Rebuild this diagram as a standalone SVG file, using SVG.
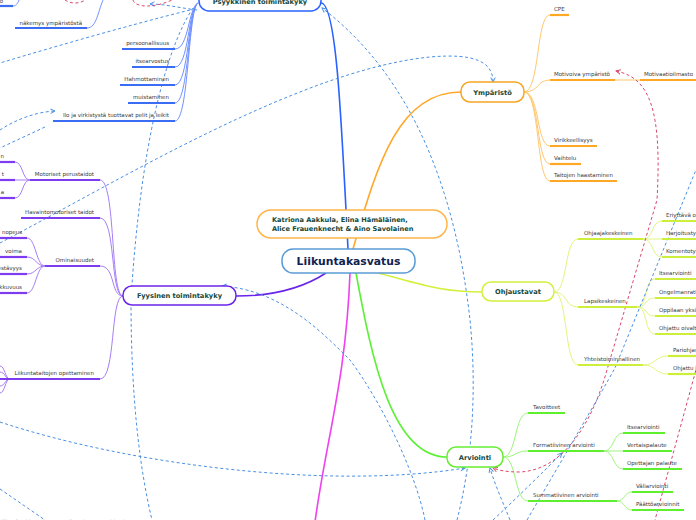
<svg xmlns="http://www.w3.org/2000/svg" width="696" height="520" viewBox="0 0 696 520">
<style>
.lbl{font-family:"DejaVu Sans",Verdana,sans-serif;font-size:5.5px;fill:#3a3a3a}
.end{text-anchor:end}
.nt{font-family:"DejaVu Sans",Verdana,sans-serif;font-weight:bold;font-size:6.7px;fill:#17483b;text-anchor:middle}
.box{fill:#fff;stroke-width:1.5}
.ul{fill:none;stroke-width:2.2}
.cv{fill:none;stroke-width:1}
.br{fill:none;stroke-width:1.6}
.dash{fill:none;stroke:#4a90e2;stroke-width:1;stroke-dasharray:3 2.5}
.rdash{fill:none;stroke:#d9486a;stroke-width:1;stroke-dasharray:3 2.5}
.b .ul{stroke:#3a6cf4}.b .cv{stroke:#6f90ff}
.o .ul{stroke:#ffa826}.o .cv{stroke:#ffc870}
.y .ul{stroke:#cdee3a}.y .cv{stroke:#e2f57e}
.g .ul{stroke:#5ef02e}.g .cv{stroke:#9ef57c}
.p .ul{stroke:#7d3cf0}.p .cv{stroke:#a67ef5}
</style>
<defs>
<marker id="ab" viewBox="0 0 8 8" refX="7" refY="4" markerWidth="6" markerHeight="6" markerUnits="userSpaceOnUse" orient="auto-start-reverse"><path d="M1,1 L7,4 L1,7" fill="none" stroke="#4a90e2" stroke-width="1.3"/></marker>
<marker id="ar" viewBox="0 0 8 8" refX="7" refY="4" markerWidth="6" markerHeight="6" markerUnits="userSpaceOnUse" orient="auto-start-reverse"><path d="M1,1 L7,4 L1,7" fill="none" stroke="#d9486a" stroke-width="1.3"/></marker>
</defs>

<g id="connectors">
  <path class="br" d="M321 3 C336 3 341 110 348 249" stroke="#2962ff"/>
  <path class="br" d="M353 249 C378 160 400 92 461 92" stroke="#ffa726"/>
  <path class="br" d="M378 273 C420 284 440 292 482 292" stroke="#d4f03c"/>
  <path class="br" d="M356 273 C372 360 392 457 447 457" stroke="#5ef038"/>
  <path class="br" d="M350 273 C346 380 326 440 315 522" stroke="#f040f0"/>
  <path class="br" d="M326 273 C300 290 270 296 236 296" stroke="#6a24ea"/>

  <g class="b">
    <path class="cv" d="M175 49 C189 49 188 8 198 3"/>
    <path class="cv" d="M175 67 C189 67 188 8 198 3"/>
    <path class="cv" d="M175 85 C189 85 188 8 198 3"/>
    <path class="cv" d="M175 103 C189 103 188 8 198 3"/>
    <path class="cv" d="M175 121 C189 121 188 8 198 3"/>
    <path class="cv" d="M87 28 C97 28 98 10 104 -2"/>
    <path class="cv" d="M13 6 C17 6 18 2 20 -2"/>
  </g>
  <g class="o">
    <path class="cv" d="M524 92 C540 92 536 15 550 15"/>
    <path class="cv" d="M524 92 C540 92 536 80 550 80"/>
    <path class="cv" d="M524 92 C540 92 536 146 550 146"/>
    <path class="cv" d="M524 92 C540 92 536 164 550 164"/>
    <path class="cv" d="M524 92 C540 92 536 181 550 181"/>
    <path class="cv" d="M615 80 L640 80"/>
  </g>
  <g class="y">
    <path class="cv" d="M554 292 C568 292 564 239 578 239"/>
    <path class="cv" d="M554 292 C568 292 564 307 578 307"/>
    <path class="cv" d="M554 292 C568 292 564 365 578 365"/>
    <path class="cv" d="M643 239 C654 239 651 221 662 221"/>
    <path class="cv" d="M643 239 L662 239"/>
    <path class="cv" d="M643 239 C654 239 651 257 662 257"/>
    <path class="cv" d="M637 307 C648 307 644 279 655 279"/>
    <path class="cv" d="M637 307 C648 307 644 298 655 298"/>
    <path class="cv" d="M637 307 C648 307 644 316 655 316"/>
    <path class="cv" d="M637 307 C648 307 644 334 655 334"/>
    <path class="cv" d="M643 365 C656 365 655 356 668 356"/>
    <path class="cv" d="M643 365 C656 365 655 374 668 374"/>
  </g>
  <g class="g">
    <path class="cv" d="M503 457 C517 457 514 413 528 413"/>
    <path class="cv" d="M503 457 C517 457 514 451 528 451"/>
    <path class="cv" d="M503 457 C517 457 514 501 528 501"/>
    <path class="cv" d="M604 451 C614 451 613 433 623 433"/>
    <path class="cv" d="M604 451 L623 451"/>
    <path class="cv" d="M604 451 C614 451 613 469 623 469"/>
    <path class="cv" d="M617 501 C625 501 624 492 632 492"/>
    <path class="cv" d="M617 501 C625 501 624 510 632 510"/>
  </g>
  <g class="p">
    <path class="cv" d="M100 180 C116 180 110 296 123 296"/>
    <path class="cv" d="M100 218 C116 218 110 296 123 296"/>
    <path class="cv" d="M100 266 C116 266 110 296 123 296"/>
    <path class="cv" d="M100 379 C116 379 110 296 123 296"/>
    <path class="cv" d="M30 180 C22 180 23 162 15 162"/>
    <path class="cv" d="M30 180 L15 180"/>
    <path class="cv" d="M30 180 C22 180 23 198 15 198"/>
    <path class="cv" d="M45 266 C36 266 36 238 27 238"/>
    <path class="cv" d="M45 266 C36 266 36 257 27 257"/>
    <path class="cv" d="M45 266 C36 266 36 274 27 274"/>
    <path class="cv" d="M45 266 C36 266 36 293 27 293"/>
    <path class="cv" d="M10 379 C5 379 5 366 0 366"/>
    <path class="cv" d="M10 379 C5 379 5 372 0 372"/>
    <path class="cv" d="M10 379 C5 379 5 386 0 386"/>
    <path class="cv" d="M10 379 C5 379 5 393 0 393"/>
  </g>

  <path class="dash" d="M190 10 C130 25 60 45 0 63"/>
  <path class="dash" d="M193 8 C165 50 140 150 131 300 C131 400 140 470 152 520"/>
  <path class="dash" d="M0 130 C15 120 35 112 55 111" marker-end="url(#ab)"/>
  <path class="dash" d="M45 127 L0 148"/>
  <path class="dash" d="M0 243 C120 180 300 70 430 57 C475 53 493 62 493 82" marker-end="url(#ab)"/>
  <path class="dash" d="M457 520 C470 470 478 400 470 320 C460 230 430 90 322 8" marker-end="url(#ab)"/>
  <path class="dash" d="M425 520 C415 470 380 400 350 360 C320 330 280 290 222 286" marker-end="url(#ab)"/>
  <path class="dash" d="M0 422 C130 465 330 490 465 468" marker-end="url(#ab)"/>
  <path class="dash" d="M0 489 L45 520"/>
  <path class="dash" d="M510 520 C502 500 495 485 490 468" marker-end="url(#ab)"/>
  <path class="dash" d="M493 520 C520 495 545 470 562 453" marker-end="url(#ab)"/>
  <path class="dash" d="M527 520 C565 455 600 395 615 368 L700 160"/>
  <path class="dash" d="M197 10 C180 8 165 4 150 4" marker-end="url(#ab)"/>
  <path class="rdash" d="M616 71 C650 78 662 110 657 200 L607 370 C590 430 560 470 520 472 C505 472 498 470 493 468" marker-start="url(#ar)" marker-end="url(#ar)"/>
  <path class="rdash" d="M700 355 L655 520"/>
  <path class="rdash" d="M133 0 C135 8 155 8 172 0"/>
  <path class="rdash" d="M65 0 C70 4 80 4 85 0"/>
</g>

<g id="center">
  <rect class="box" x="282" y="249" width="133" height="24" rx="11" stroke="#5b9bd5"/>
  <text x="348.5" y="265" font-family="DejaVu Sans,Verdana,sans-serif" font-weight="bold" font-size="10.8" fill="#0f2350" text-anchor="middle">Liikuntakasvatus</text>
</g>
<g id="authors">
  <rect class="box" x="257" y="210" width="190" height="28" rx="14" stroke="#ffb547"/>
  <text x="272" y="222" font-family="DejaVu Sans,Verdana,sans-serif" font-weight="bold" font-size="6.6" fill="#17483b">Katriona Aakkula, Elina Hämäläinen,</text>
  <text x="272" y="231" font-family="DejaVu Sans,Verdana,sans-serif" font-weight="bold" font-size="6.6" fill="#17483b">Alice Frauenknecht &amp; Aino Savolainen</text>
</g>
<g id="psyykkinen">
  <rect class="box" x="199" y="-12" width="122" height="23" rx="10" stroke="#2962ff"/>
  <text class="nt" x="260" y="4">Psyykkinen toimintakyky</text>
</g>
<g id="ymparisto">
  <rect class="box" x="461" y="82" width="63" height="20" rx="9" stroke="#f5a623"/>
  <text class="nt" x="492.5" y="94.5">Ympäristö</text>
</g>
<g id="ohjaustavat">
  <rect class="box" x="482" y="282" width="72" height="19" rx="9" stroke="#d4f03c"/>
  <text class="nt" x="518" y="294">Ohjaustavat</text>
</g>
<g id="arviointi">
  <rect class="box" x="447" y="447" width="56" height="20" rx="9" stroke="#66ee33"/>
  <text class="nt" x="475" y="459.5">Arviointi</text>
</g>
<g id="fyysinen">
  <rect class="box" x="123" y="286" width="113" height="19" rx="9" stroke="#6a24ea"/>
  <text class="nt" x="179.5" y="298">Fyysinen toimintakyky</text>
</g>

<g class="b">
  <g id="p-o"><path class="ul" d="M0 6 H13"/><text class="lbl end" x="3" y="3">o</text></g>
  <g id="p-nakemys"><path class="ul" d="M15 28 H87"/><text class="lbl end" x="82" y="25">näkemys ympäristöstä</text></g>
  <g id="p-persoonallisuus"><path class="ul" d="M122 49 H175"/><text class="lbl end" x="169" y="45">persoonallisuus</text></g>
  <g id="p-itsearvostus"><path class="ul" d="M132 67 H175"/><text class="lbl end" x="169" y="63">itsearvostus</text></g>
  <g id="p-hahmottaminen"><path class="ul" d="M120 85 H175"/><text class="lbl end" x="169" y="81">Hahmottaminen</text></g>
  <g id="p-muistaminen"><path class="ul" d="M128 103 H175"/><text class="lbl end" x="169" y="99">muistaminen</text></g>
  <g id="p-ilo"><path class="ul" d="M53 121 H175"/><text class="lbl end" x="169" y="117">Ilo ja virkistystä tuottavat pelit ja leikit</text></g>
</g>

<g class="o">
  <g id="y-cpe"><path class="ul" d="M550 15 H569"/><text class="lbl" x="554" y="11">CPE</text></g>
  <g id="y-motivoiva"><path class="ul" d="M550 80 H615"/><text class="lbl" x="554" y="76">Motivoiva ympäristö</text></g>
  <g id="y-motivaatioilmasto"><path class="ul" d="M640 80 H696"/><text class="lbl" x="644" y="76">Motivaatioilmasto</text></g>
  <g id="y-virikkeellisyys"><path class="ul" d="M550 146 H597"/><text class="lbl" x="554" y="142">Virikkeellisyys</text></g>
  <g id="y-vaihtelu"><path class="ul" d="M550 164 H581"/><text class="lbl" x="554" y="160">Vaihtelu</text></g>
  <g id="y-taitojen"><path class="ul" d="M550 181 H617"/><text class="lbl" x="554" y="177">Taitojen haastaminen</text></g>
</g>

<g class="y">
  <g id="o-ohjaajakeskeinen"><path class="ul" d="M578 239 H643"/><text class="lbl" x="584" y="235">Ohjaajakeskeinen</text></g>
  <g id="o-eriyttava"><path class="ul" d="M662 221 H696"/><text class="lbl" x="666" y="217">Eriyttävä opetus</text></g>
  <g id="o-harjoitustyyli"><path class="ul" d="M662 239 H696"/><text class="lbl" x="666" y="235">Harjoitustyyli</text></g>
  <g id="o-komentotyyli"><path class="ul" d="M662 257 H696"/><text class="lbl" x="666" y="253">Komentotyyli</text></g>
  <g id="o-lapsikeskeinen"><path class="ul" d="M578 307 H637"/><text class="lbl" x="584" y="303">Lapsikeskeinen</text></g>
  <g id="o-itsearviointi"><path class="ul" d="M655 279 H696"/><text class="lbl" x="659" y="275">Itsearviointi</text></g>
  <g id="o-ongelmanratkaisu"><path class="ul" d="M655 298 H696"/><text class="lbl" x="659" y="294">Ongelmanratkaisu</text></g>
  <g id="o-oppilaan"><path class="ul" d="M655 316 H696"/><text class="lbl" x="659" y="312">Oppilaan yksilöllinen</text></g>
  <g id="o-ohjattu-oivaltaminen"><path class="ul" d="M655 334 H696"/><text class="lbl" x="659" y="330">Ohjattu oivaltaminen</text></g>
  <g id="o-yhteistoiminnallinen"><path class="ul" d="M578 365 H643"/><text class="lbl" x="584" y="361">Yhteistoiminnallinen</text></g>
  <g id="o-pariohjaus"><path class="ul" d="M668 356 H696"/><text class="lbl" x="673" y="352">Pariohjaus</text></g>
  <g id="o-ohjattu"><path class="ul" d="M668 374 H696"/><text class="lbl" x="673" y="370">Ohjattu j</text></g>
</g>

<g class="g">
  <g id="a-tavoitteet"><path class="ul" d="M528 413 H565"/><text class="lbl" x="533" y="409">Tavoitteet</text></g>
  <g id="a-formatiivinen"><path class="ul" d="M528 451 H604"/><text class="lbl" x="533" y="447">Formatiivinen arviointi</text></g>
  <g id="a-itsearviointi"><path class="ul" d="M623 433 H665"/><text class="lbl" x="627" y="429">Itsearviointi</text></g>
  <g id="a-vertaispalaute"><path class="ul" d="M623 451 H672"/><text class="lbl" x="627" y="447">Vertaispalaute</text></g>
  <g id="a-opettajan"><path class="ul" d="M623 469 H682"/><text class="lbl" x="627" y="465">Opettajan palaute</text></g>
  <g id="a-summatiivinen"><path class="ul" d="M528 501 H617"/><text class="lbl" x="533" y="497">Summatiivinen arviointi</text></g>
  <g id="a-valiarviointi"><path class="ul" d="M632 492 H673"/><text class="lbl" x="636" y="488">Väliarviointi</text></g>
  <g id="a-paattoarvioinnit"><path class="ul" d="M632 510 H684"/><text class="lbl" x="636" y="506">Päättöarvioinnit</text></g>
</g>

<g class="p">
  <g id="f-motoriset"><path class="ul" d="M30 180 H100"/><text class="lbl end" x="94" y="176">Motoriset perustaidot</text></g>
  <g id="f-m1"><path class="ul" d="M0 162 H15"/><text class="lbl end" x="4" y="158">n</text></g>
  <g id="f-m2"><path class="ul" d="M0 180 H15"/><text class="lbl end" x="4" y="176">t</text></g>
  <g id="f-m3"><path class="ul" d="M0 198 H15"/><text class="lbl end" x="4" y="194">a</text></g>
  <g id="f-havainto"><path class="ul" d="M21 218 H100"/><text class="lbl end" x="94" y="214">Havaintomotoriset taidot</text></g>
  <g id="f-ominaisuudet"><path class="ul" d="M45 266 H100"/><text class="lbl end" x="94" y="262">Ominaisuudet</text></g>
  <g id="f-nopeus"><path class="ul" d="M0 238 H27"/><text class="lbl end" x="22" y="234">nopeus</text></g>
  <g id="f-voima"><path class="ul" d="M0 257 H27"/><text class="lbl end" x="22" y="253">voima</text></g>
  <g id="f-kestavyys"><path class="ul" d="M0 274 H27"/><text class="lbl end" x="22" y="270">kestävyys</text></g>
  <g id="f-liikkuvuus"><path class="ul" d="M0 293 H27"/><text class="lbl end" x="22" y="289">liikkuvuus</text></g>
  <g id="f-liikuntataitojen"><path class="ul" d="M0 379 H100"/><text class="lbl end" x="94" y="375">Liikuntataitojen opettaminen</text></g>
</g>

<g id="bottom-label">
  <text class="lbl" x="1" y="523.5">lähteä rohkeasti vuorovaikutukseen muiden kanssa</text>
</g>
</svg>
